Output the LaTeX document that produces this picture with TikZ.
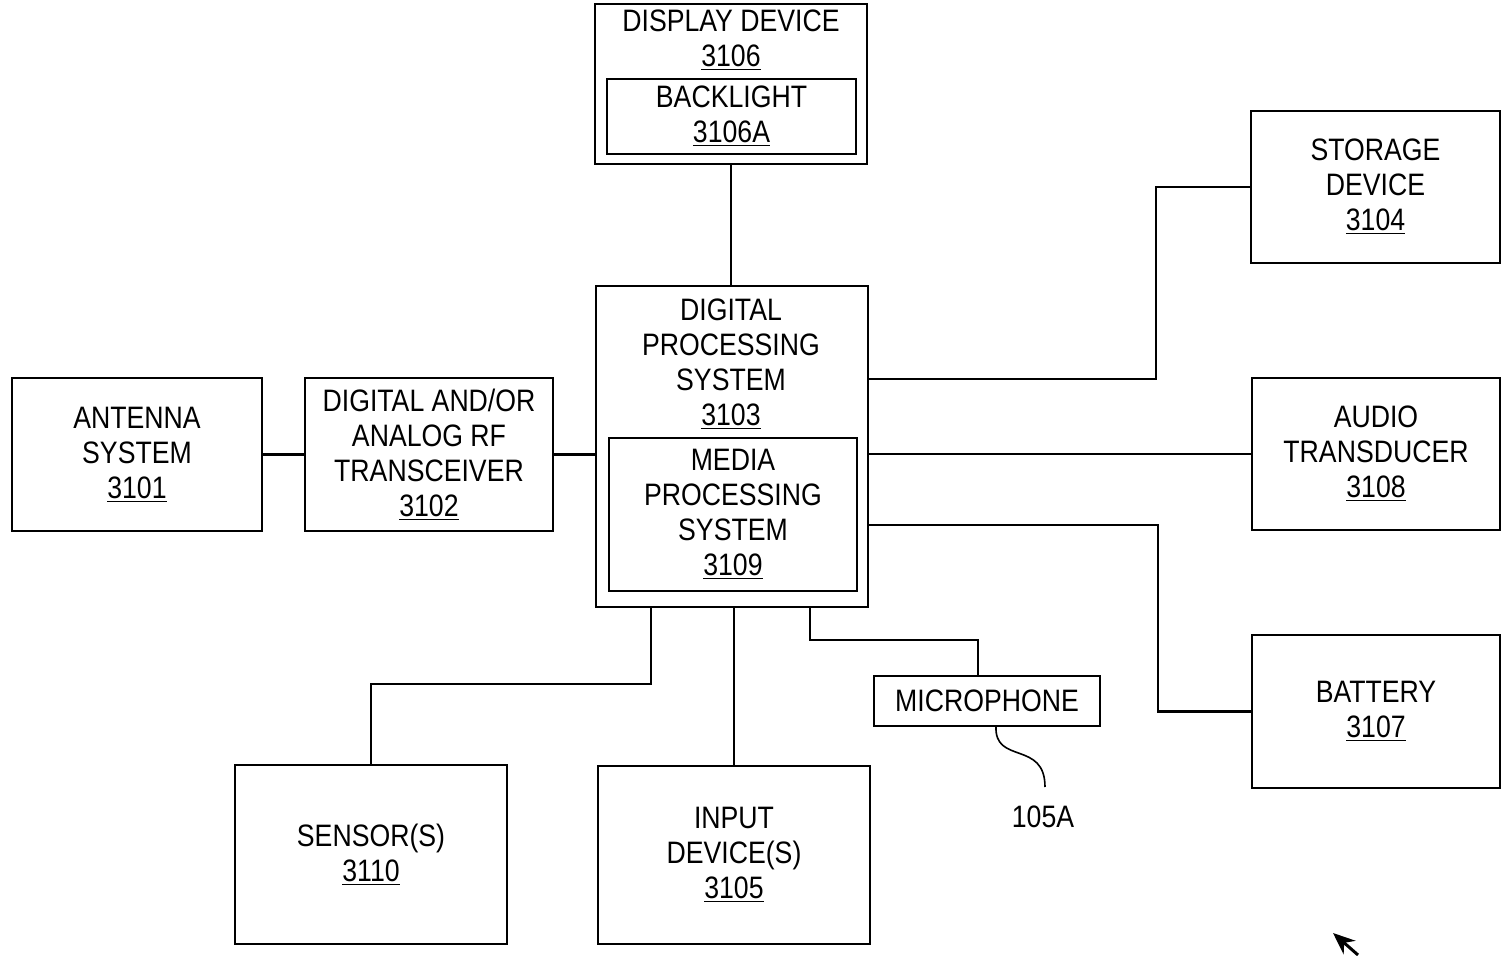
\documentclass[tikz,border=0pt]{standalone}
\usepackage{fontspec}
\setmainfont{Liberation Sans}[FakeStretch=0.86]
\usetikzlibrary{arrows.meta}
\newcommand{\ul}[1]{\underline{#1}}
\begin{document}
\begin{tikzpicture}[x=0.5pt,y=-0.5pt,
  box/.style={draw, line width=1.1pt, inner sep=0pt, align=center, font=\fontsize{15.5}{17.5}\selectfont},
  txt/.style={inner sep=0pt, align=center, font=\fontsize{15.5}{17.5}\selectfont},
  wire/.style={line width=1.1pt}]
\useasboundingbox (0,0) rectangle (1505,956);
% boxes
\node[box, minimum width=136pt, minimum height=80pt] (disp) at (731,84) {};
\node[txt] (dispt) at (731,40) {DISPLAY DEVICE\\\ul{3106}};
\node[box, minimum width=124.5pt, minimum height=37.5pt] (back) at (731.5,116.5) {BACKLIGHT\\\ul{3106A}};
\node[box, minimum width=136pt, minimum height=160.5pt] (dps) at (732,446.5) {};
\node[txt] (dpst) at (731,364) {DIGITAL\\PROCESSING\\SYSTEM\\\ul{3103}};
\node[box, minimum width=124pt, minimum height=76.5pt] (med) at (733,514.5) {MEDIA\\PROCESSING\\SYSTEM\\\ul{3109}};
\node[box, minimum width=125pt, minimum height=76.5pt] (ant) at (137,454.5) {ANTENNA\\SYSTEM\\\ul{3101}};
\node[box, minimum width=124pt, minimum height=76.5pt] (rf) at (429,454.5) {DIGITAL AND/OR\\ANALOG RF\\TRANSCEIVER\\\ul{3102}};
\node[box, minimum width=124.5pt, minimum height=76pt] (sto) at (1375.5,187) {STORAGE\\DEVICE\\\ul{3104}};
\node[box, minimum width=124pt, minimum height=76pt] (aud) at (1376,454) {AUDIO\\TRANSDUCER\\\ul{3108}};
\node[box, minimum width=124pt, minimum height=76.5pt] (bat) at (1376,711.5) {BATTERY\\\ul{3107}};
\node[box, minimum width=136pt, minimum height=89.5pt] (sen) at (371,854.5) {SENSOR(S)\\\ul{3110}};
\node[box, minimum width=136pt, minimum height=89pt] (inp) at (734,855) {INPUT\\DEVICE(S)\\\ul{3105}};
\node[box, minimum width=113pt, minimum height=25pt] (mic) at (987,701) {MICROPHONE};
\node[txt] (lab) at (1043,817) {105A};
% junction coordinates
\coordinate (j1) at (1156,379);
\coordinate (j2) at (1158,525);
\coordinate (j3) at (651,684);
\coordinate (j4) at (810,640);
\coordinate (j5) at (978,640);
\coordinate (q1) at (996,726);
\coordinate (q2) at (1045,787);
\coordinate (a1) at (1358,955);
\coordinate (a2) at (1333,933);
% connectors
\draw[wire] (disp.south -| 731,0) -- (dps.north -| 731,0);
\draw[wire] (ant.east) -- (rf.west);
\draw[wire] (rf.east) -- (dps.west |- rf.east);
\draw[wire] (dps.east |- j1) -- (j1) |- (sto.west);
\draw[wire] (dps.east |- aud.west) -- (aud.west);
\draw[wire] (dps.east |- j2) -- (j2) |- (bat.west);
\draw[wire] (dps.south -| j3) -- (j3) -| (sen.north);
\draw[wire] (dps.south -| inp.north) -- (inp.north);
\draw[wire] (dps.south -| j4) -- (j4) -- (j5) -- (j5 |- mic.north);
\draw[line width=0.8pt] (q1) .. controls (994,765) and (1045,740) .. (q2);
\draw[line width=1.5pt, -{Stealth[length=11pt,width=9pt]}] (a1) -- (a2);
\end{tikzpicture}
\end{document}
